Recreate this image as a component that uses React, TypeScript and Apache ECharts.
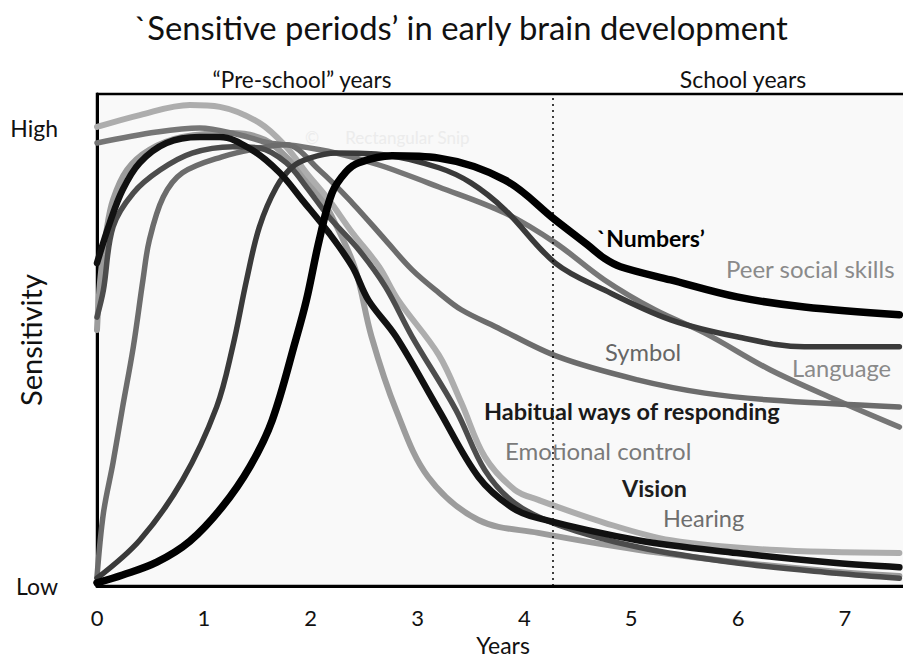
import React, { useEffect, useRef } from 'react';
import * as echarts from 'echarts';

// Data: [years, sensitivity] where 0 = "Low", 10 = "High"
const numbers: [number, number][] = [
  [0, 0.07], [0.24, 0.24], [0.56, 0.52], [0.87, 0.98], [1.17, 1.72], [1.43, 2.6], [1.64, 3.62],
  [1.86, 5.37], [1.96, 6.24], [2.08, 7.55], [2.2, 8.58], [2.33, 9.04], [2.45, 9.24], [2.76, 9.39],
  [3.2, 9.34], [3.82, 8.86], [4.29, 7.99], [4.59, 7.45], [4.75, 7.15], [4.9, 6.97], [5.37, 6.68],
  [5.99, 6.31], [6.62, 6.09], [7.51, 5.92],
];
const peerSocial: [number, number][] = [
  [0, 0.17], [0.4, 1.0], [0.8, 2.31], [1.12, 3.91], [1.27, 5.22], [1.4, 6.68], [1.52, 7.84],
  [1.68, 8.71], [1.83, 9.15], [1.99, 9.34], [2.24, 9.45], [2.7, 9.41], [3.2, 9.13], [3.5, 8.8],
  [3.82, 8.21], [4.29, 7.05], [4.75, 6.46], [5.37, 5.81], [5.99, 5.44], [6.62, 5.22], [7.51, 5.22],
];
const language: [number, number][] = [
  [0, 9.67], [0.56, 9.91], [0.96, 10.0], [1.33, 9.85], [1.61, 9.67], [1.86, 9.61], [2.24, 9.45],
  [2.64, 9.19], [3.2, 8.71], [3.82, 8.14], [4.29, 7.49], [4.75, 6.68], [5.22, 6.03], [5.69, 5.52],
  [6.3, 4.72], [6.92, 4.06], [7.51, 3.47],
];
const symbol: [number, number][] = [
  [0, 0.2], [0.06, 1.59], [0.15, 2.69], [0.24, 3.91], [0.34, 5.22], [0.43, 6.68], [0.49, 7.55],
  [0.62, 8.49], [0.8, 9.02], [1.17, 9.37], [1.52, 9.56], [1.77, 9.63], [2.08, 9.08], [2.39, 8.36],
  [2.7, 7.55], [2.95, 6.9], [3.2, 6.4], [3.41, 6.03], [3.73, 5.66], [4.32, 5.0], [5.06, 4.5],
  [5.69, 4.21], [6.3, 4.06], [7.51, 3.91],
];
const habitual: [number, number][] = [
  [0, 5.87], [0.06, 6.46], [0.15, 7.84], [0.34, 8.58], [0.59, 9.08], [0.89, 9.45], [1.27, 9.59],
  [1.52, 9.56], [1.77, 9.24], [1.96, 8.71], [2.17, 8.06], [2.45, 7.34], [2.7, 6.53], [2.95, 5.44],
  [3.36, 3.84], [3.63, 2.53], [3.91, 1.81], [4.32, 1.33], [5.06, 0.85], [5.99, 0.5], [6.92, 0.28],
  [7.51, 0.17],
];
const vision: [number, number][] = [
  [0, 7.05], [0.12, 7.93], [0.24, 8.65], [0.4, 9.24], [0.65, 9.67], [0.96, 9.8], [1.15, 9.8],
  [1.45, 9.52], [1.71, 9.02], [1.92, 8.43], [2.17, 7.71], [2.39, 6.97], [2.54, 6.24], [2.8, 5.44],
  [3.2, 3.84], [3.57, 2.38], [3.88, 1.72], [4.13, 1.48], [5.06, 1.0], [5.99, 0.72], [6.92, 0.5],
  [7.51, 0.41],
];
const emotional: [number, number][] = [
  [0, 10.02], [0.4, 10.28], [0.87, 10.5], [1.15, 10.46], [1.52, 10.11], [1.77, 9.59], [1.96, 9.02],
  [2.17, 8.43], [2.39, 7.71], [2.64, 6.97], [2.82, 6.24], [3.2, 5.04], [3.41, 4.0], [3.63, 2.82],
  [3.91, 2.1], [4.13, 1.88], [4.75, 1.38], [5.37, 1.0], [6.3, 0.79], [7.51, 0.72],
];
const hearing: [number, number][] = [
  [0, 5.59], [0.03, 6.68], [0.09, 7.77], [0.15, 8.43], [0.28, 9.08], [0.49, 9.52], [0.8, 9.8],
  [1.27, 9.89], [1.57, 9.74], [1.8, 9.3], [2.08, 8.54], [2.26, 7.77], [2.42, 6.9], [2.57, 5.44],
  [2.8, 3.84], [3.1, 2.38], [3.57, 1.44], [4.13, 1.16], [5.06, 0.79], [5.99, 0.52], [6.92, 0.31],
  [7.51, 0.22],
];
const schoolStart = 4.27;
const yLabels: Record<number, string> = { 0: 'Low', 10: 'High' };

const FONT = 'Lato, "Open Sans", sans-serif';

function line(name: string, data: [number, number][], color: string, width: number, z: number) {
  return {
    name,
    type: 'line',
    data,
    smooth: 0.35,
    symbol: 'none',
    z,
    lineStyle: { color, width, cap: 'round', join: 'round' },
    silent: true,
  };
}

function label(text: string, x: number, y: number, fill: string, size: number, weight: string | number = 'normal') {
  return {
    type: 'text',
    x,
    y,
    z: 100,
    silent: true,
    style: {
      text,
      fill,
      fontSize: size,
      fontFamily: FONT,
      fontWeight: weight,
      align: 'left',
      verticalAlign: 'middle',
      textAlign: 'left',
      textVerticalAlign: 'middle',
    },
  };
}

export default function App() {
  const ref = useRef<HTMLDivElement>(null);
  useEffect(() => {
    if (!ref.current) return;
    const chart = echarts.init(ref.current, null, { renderer: 'svg' });
    const series: any[] = [
      line('Hearing', hearing, '#9c9c9c', 6, 2),
      line('Emotional control', emotional, '#adadad', 6, 2),
      line('Language', language, '#767676', 5.5, 3),
      line('Symbol', symbol, '#6c6c6c', 5.5, 3),
      line('Habitual ways of responding', habitual, '#4c4c4c', 5.5, 4),
      line('Peer social skills', peerSocial, '#3a3a3a', 5.5, 4),
      line('Vision', vision, '#111111', 6.5, 5),
      line('Numbers', numbers, '#000000', 7.5, 6),
    ];
    series[series.length - 1].markLine = {
      silent: true,
      symbol: ['none', 'none'],
      label: { show: false },
      lineStyle: { type: [2, 4], color: '#000', width: 1.5 },
      data: [{ xAxis: schoolStart }],
    };
    chart.setOption({
      animation: false,
      backgroundColor: '#ffffff',
      title: {
        text: '`Sensitive periods’ in early brain development',
        left: 456,
        top: 6,
        textAlign: 'center',
        textStyle: { fontFamily: FONT, fontSize: 32.8, fontWeight: 'normal', color: '#111' },
      },
      grid: {
        left: 97,
        top: 94,
        right: -6,
        bottom: 71,
        containLabel: false,
        outerBoundsMode: 'none',
        show: true,
        backgroundColor: '#f9f9f9',
        borderColor: '#000',
        borderWidth: 2.5,
      },
      xAxis: {
        type: 'value',
        min: 0,
        max: 7.6,
        interval: 1,
        name: 'Years',
        nameLocation: 'middle',
        nameGap: 47,
        nameMoveOverlap: false,
        nameTextStyle: { fontFamily: FONT, fontSize: 23, color: '#111' },
        axisLine: { show: true, lineStyle: { color: '#000', width: 3 } },
        axisTick: { show: false },
        splitLine: { show: false },
        axisLabel: {
          margin: 20,
          fontFamily: FONT,
          fontSize: 22,
          color: '#111',
          formatter: (v: number) => (Number.isInteger(v) ? String(v) : ''),
        },
      },
      yAxis: {
        type: 'value',
        min: 0,
        max: 10.74,
        interval: 10,
        name: 'Sensitivity',
        nameLocation: 'middle',
        nameGap: 52,
        nameRotate: 90,
        nameMoveOverlap: false,
        nameTextStyle: { fontFamily: FONT, fontSize: 29, color: '#111' },
        axisLine: { show: true, lineStyle: { color: '#000', width: 3 } },
        axisTick: { show: false },
        splitLine: { show: false },
        axisLabel: {
          margin: 39,
          fontFamily: FONT,
          fontSize: 23,
          color: '#111',
          formatter: (v: number) => yLabels[v] ?? '',
        },
      },
      graphic: [
        {
          type: 'text', x: 302, y: 79, z: 100, silent: true,
          style: { text: '“Pre-school” years', fill: '#111', fontSize: 22.5, fontFamily: FONT, align: 'center', verticalAlign: 'middle', textAlign: 'center', textVerticalAlign: 'middle' },
        },
        {
          type: 'text', x: 743, y: 79, z: 100, silent: true,
          style: { text: 'School years', fill: '#111', fontSize: 23, fontFamily: FONT, align: 'center', verticalAlign: 'middle', textAlign: 'center', textVerticalAlign: 'middle' },
        },
        label('©      Rectangular Snip', 305, 137, '#ececec', 17),
        label('`Numbers’', 597, 238, '#000', 23, 'bold'),
        label('Peer social skills', 726, 268, '#8a8a8a', 24),
        label('Symbol', 605, 352, '#666', 23.7),
        label('Language', 792, 368, '#8a8a8a', 23.7),
        label('Habitual ways of responding', 484, 411, '#1a1a1a', 23.5, 'bold'),
        label('Emotional control', 505, 450, '#7a7a7a', 24),
        label('Vision', 622, 488, '#1e1e1e', 23.3, 'bold'),
        label('Hearing', 663, 518, '#6e6e6e', 23.5),
      ],
      series,
    });
    return () => chart.dispose();
  }, []);
  return (
    <div
      ref={ref}
      style={{ position: 'fixed', left: 0, top: 0, width: 903, height: 657, background: '#fff' }}
    />
  );
}
